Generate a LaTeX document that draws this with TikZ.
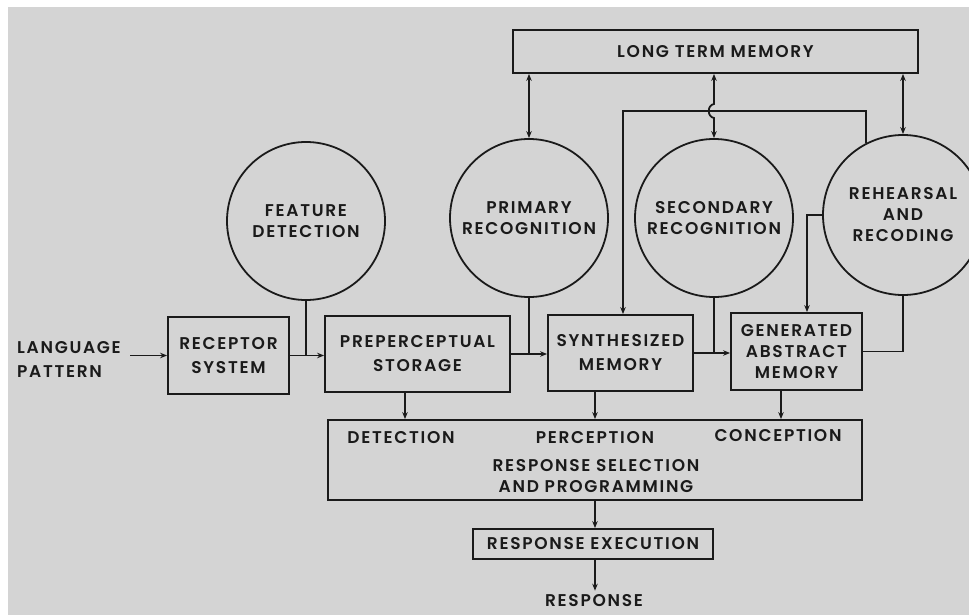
\documentclass[tikz,border=0pt]{standalone}
\usepackage{fontspec}
\setmainfont{Poppins}[UprightFont=* SemiBold, LetterSpace=10]
\usetikzlibrary{arrows.meta}
\definecolor{bg}{HTML}{D4D4D4}
\definecolor{ink}{HTML}{1A1A1A}
\begin{document}
\begin{tikzpicture}[x=1pt,y=-1pt,
  every node/.style={text=ink, font=\fontsize{17}{21}\selectfont},
  ln/.style={draw=ink, line width=1.8pt},
  box/.style={draw=ink, line width=1.8pt, rectangle, inner sep=0pt, align=center},
  bx2/.style={box, font=\fontsize{17}{24}\selectfont},
  circ/.style={draw=ink, line width=1.8pt, circle, inner sep=0pt, minimum size=158pt, align=center},
  arr/.style={ln, -{Stealth[length=7pt,width=5.5pt]}},
  dbl/.style={ln, {Stealth[length=7pt,width=5.5pt]}-{Stealth[length=7pt,width=5.5pt]}},
]
\useasboundingbox (0,0) rectangle (969,615);
\clip (0,0) rectangle (969,615);
\fill[white] (0,0) rectangle (969,615);
\fill[bg] (8,7) rectangle (969,615);

% top
\node[box, minimum width=405pt, minimum height=43pt] (ltm) at (715.5,51.5) {LONG TERM MEMORY};
% circles
\node[circ] (fd) at (306,221) {FEATURE\\DETECTION};
\node[circ] (pr) at (529,218) {PRIMARY\\RECOGNITION};
\node[circ] (sr) at (714,218) {SECONDARY\\RECOGNITION};
\node[circ, minimum size=160pt] (rr) at (903,215) {REHEARSAL\\AND\\RECODING};
% boxes
\node[bx2, minimum width=121pt, minimum height=77pt] (rs) at (228.5,355.5) {RECEPTOR\\SYSTEM};
\node[bx2, minimum width=185pt, minimum height=76pt] (ps) at (417.5,354) {PREPERCEPTUAL\\STORAGE};
\node[bx2, minimum width=145pt, minimum height=76pt] (sm) at (620.5,353) {SYNTHESIZED\\MEMORY};
\node[box, minimum width=131pt, minimum height=77pt] (gam) at (796.5,351.5) {GENERATED\\ABSTRACT\\MEMORY};
\node[box, minimum width=534pt, minimum height=80pt] (rsp) at (595,460) {};
\node (det) at (401,438) {DETECTION};
\node (per) at (595,438) {PERCEPTION};
\node (con) at (778,436) {CONCEPTION};
\node[align=center] (rsel) at (596,476) {RESPONSE SELECTION\\AND PROGRAMMING};
\node[box, minimum width=240pt, minimum height=30pt] (rex) at (593,544) {RESPONSE EXECUTION};
\node[inner sep=4pt] (resp) at (594,601) {RESPONSE};
\node[align=left, anchor=west, inner sep=0pt, font=\fontsize{17}{24}\selectfont] (lang) at (17,359) {LANGUAGE\\PATTERN};

% helper coordinates
\coordinate (lin) at (130,0);
\coordinate (xdet) at (405,0);
\coordinate (xper) at (595,0);
\coordinate (xcon) at (781,0);
\coordinate (fb) at (623,111);
\coordinate (k1) at (807,215);

% main flow
\draw[arr] (rs.west -| lin) -- (rs.west);
\draw[arr] (rs.east) -- (rs.east -| ps.west);
\draw[ln] (fd.south) -- (fd.south |- rs.east);
\draw[arr] (ps.east) -- (ps.east -| sm.west);
\draw[ln] (pr.south) -- (pr.south |- ps.east);
\draw[arr] (sm.east) -- (sm.east -| gam.west);
\draw[ln] (sr.south) -- (sr.south |- sm.east);
\draw[ln] (gam.east) -- (gam.east -| rr.south) -- (rr.south);
\draw[arr] (rr.west) -- (k1) -- (k1 |- gam.north);

% feedback to synthesized memory
\draw[arr] (rr.117.5) -- (rr.117.5 |- fb) -- (fb) -- (fb |- sm.north);

% long term memory links
\draw[dbl] (pr.north |- ltm.south) -- (pr.north);
\draw[dbl] (rr.north |- ltm.south) -- (rr.north);
\draw[dbl] (sr.north |- ltm.south) -- (714,104) .. controls (707,105) and (707,117) .. (714,118) -- (sr.north);

% outputs
\draw[arr] (ps.south -| xdet) -- (rsp.north -| xdet);
\draw[arr] (sm.south -| xper) -- (rsp.north -| xper);
\draw[arr] (gam.south -| xcon) -- (rsp.north -| xcon);
\draw[arr] (rsp.south -| xper) -- (rex.north -| xper);
\draw[arr] (rex.south -| xper) -- (resp.north -| xper);
\end{tikzpicture}
\end{document}
